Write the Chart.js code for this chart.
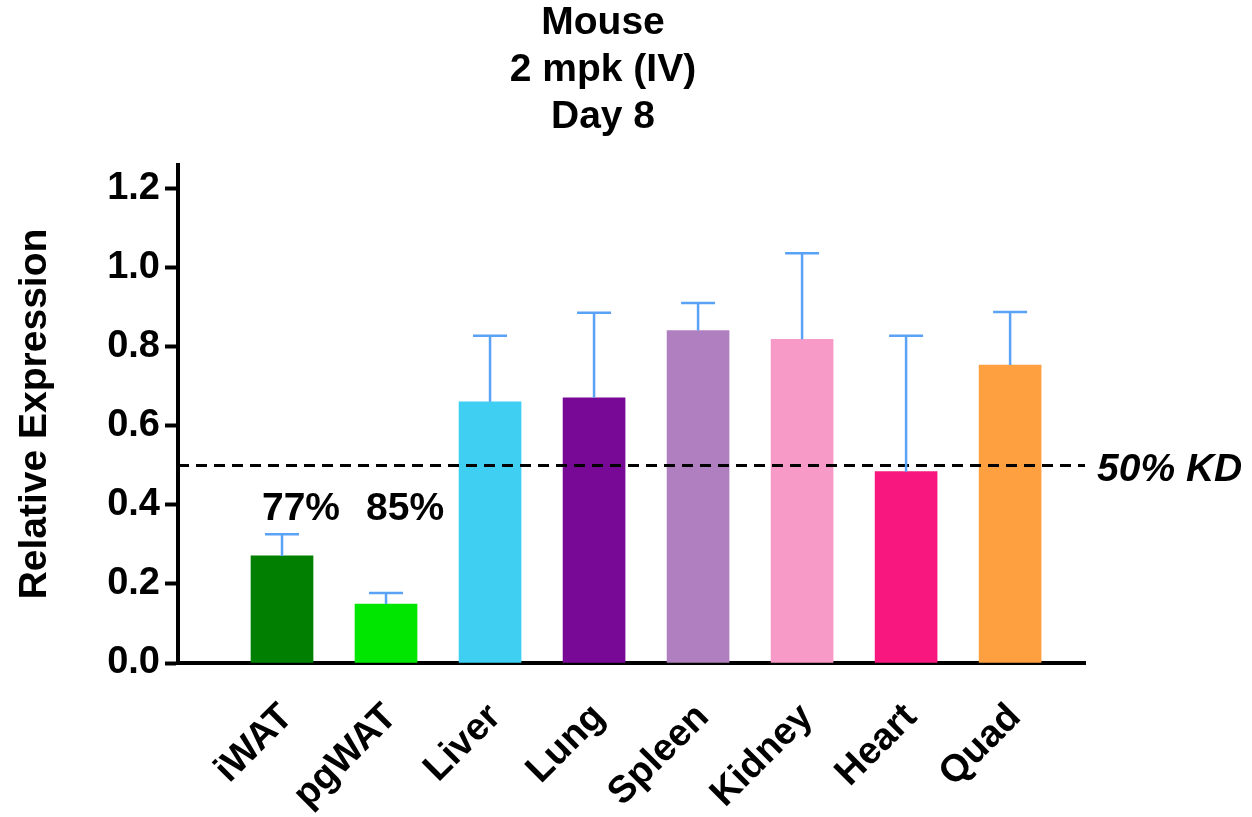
<!DOCTYPE html>
<html>
<head>
<meta charset="utf-8">
<title>Mouse 2 mpk (IV) Day 8</title>
<script src="https://cdn.jsdelivr.net/npm/chart.js@4/dist/chart.umd.min.js"></script>
<style>
  html, body { margin: 0; padding: 0; background: #ffffff; }
  #wrap { width: 1252px; height: 817px; }
</style>
</head>
<body>
<div id="wrap"><canvas id="chart" width="1252" height="817"></canvas></div>
<script>
// Tissues and their relative expression (mean) with the upper error magnitude
const tissues = ['iWAT', 'pgWAT', 'Liver', 'Lung', 'Spleen', 'Kidney', 'Heart', 'Quad'];
const relExpression = [0.271, 0.149, 0.661, 0.671, 0.841, 0.819, 0.484, 0.754];
const errUpper = [0.055, 0.028, 0.167, 0.215, 0.070, 0.218, 0.344, 0.134];
const barColors = ['#007f00', '#00e600', '#3ecff2', '#780896', '#b07fc0', '#f89ac8', '#f8177f', '#fe9f40'];

// Knockdown annotations shown above the adipose bars
const kdLabels = ['77%', '85%'];
const kdLabelLevel = 0.4;

// 50% knockdown reference line
const kdThreshold = 0.5;
const kdThresholdText = '50% KD';

const yTicks = [0.0, 0.2, 0.4, 0.6, 0.8, 1.0, 1.2];
const titleLines = ['Mouse', '2 mpk (IV)', 'Day 8'];

const FONT = "'Liberation Sans', Arial, Helvetica, sans-serif";
Chart.defaults.font.family = FONT;
Chart.defaults.color = '#000000';

const xMin = -1, xMax = 7.72;
const errColor = '#5aa2f5';

// Error bars (upper only) and the text annotations
const annotatePlugin = {
  id: 'annotate',
  afterDatasetsDraw(chart) {
    const { ctx, scales: { x, y }, chartArea } = chart;
    ctx.save();
    // error bars
    ctx.strokeStyle = errColor;
    ctx.lineWidth = 2.5;
    relExpression.forEach((v, i) => {
      const px = x.getPixelForValue(i);
      const y0 = y.getPixelForValue(v);
      const y1 = y.getPixelForValue(v + errUpper[i]);
      ctx.beginPath();
      ctx.moveTo(px, y0);
      ctx.lineTo(px, y1);
      ctx.moveTo(px - 17, y1);
      ctx.lineTo(px + 17, y1);
      ctx.stroke();
    });
    // percent knockdown labels
    ctx.fillStyle = '#000000';
    ctx.font = 'bold 39px ' + FONT;
    ctx.textAlign = 'center';
    ctx.textBaseline = 'alphabetic';
    kdLabels.forEach((t, i) => {
      ctx.fillText(t, x.getPixelForValue(i) + 19, y.getPixelForValue(kdLabelLevel) + 15);
    });
    // threshold label
    ctx.font = 'italic bold 39px ' + FONT;
    ctx.textAlign = 'left';
    ctx.fillText(kdThresholdText, chartArea.right + 12, y.getPixelForValue(kdThreshold) + 16);
    ctx.restore();
  }
};

new Chart(document.getElementById('chart'), {
  data: {
    datasets: [
      {
        type: 'line',
        order: 0,
        data: [{ x: xMin, y: kdThreshold }, { x: xMax, y: kdThreshold }],
        borderColor: '#000000',
        borderWidth: 3,
        borderDash: [11, 7],
        pointRadius: 0,
        fill: false
      },
      {
        type: 'bar',
        order: 1,
        data: relExpression.map((v, i) => ({ x: i, y: v })),
        backgroundColor: barColors,
        borderWidth: 0,
        barThickness: 62
      }
    ]
  },
  options: {
    responsive: false,
    animation: false,
    devicePixelRatio: 1,
    layout: { padding: { left: 0, right: 46, top: 0, bottom: 0 } },
    plugins: {
      legend: { display: false },
      tooltip: { enabled: false },
      title: {
        display: true,
        text: titleLines,
        color: '#000000',
        font: { size: 39, weight: 'bold', lineHeight: 47 / 39 },
        padding: { top: 0, bottom: 24 }
      }
    },
    scales: {
      x: {
        type: 'linear',
        min: xMin,
        max: xMax,
        offset: false,
        afterBuildTicks(scale) {
          scale.ticks = tissues.map((_, i) => ({ value: i }));
        },
        afterFit(scale) { scale.height = 154; },
        ticks: {
          callback: (v) => tissues[v],
          color: '#000000',
          font: { size: 38, weight: 'bold' },
          minRotation: 45,
          maxRotation: 45,
          autoSkip: false,
          padding: 32,
          labelOffset: 5
        },
        grid: { display: false, drawTicks: false, offset: false },
        border: { display: true, color: '#000000', width: 4 }
      },
      y: {
        type: 'linear',
        min: 0,
        max: 1.26,
        afterBuildTicks(scale) {
          scale.ticks = yTicks.map(v => ({ value: v }));
        },
        afterFit(scale) { scale.width = 178; },
        ticks: {
          callback: (v) => Number(v).toFixed(1),
          color: '#000000',
          font: { size: 38, weight: 'bold' },
          padding: 5
        },
        grid: {
          drawOnChartArea: false,
          drawTicks: true,
          tickLength: 13,
          tickWidth: 4,
          tickColor: '#000000'
        },
        border: { display: true, color: '#000000', width: 4 },
        title: {
          display: true,
          text: 'Relative Expression',
          color: '#000000',
          font: { size: 39, weight: 'bold', lineHeight: 1.2 },
          padding: { top: 12, bottom: 0 }
        }
      },
      // empty right-hand strip that holds the "50% KD" label
      side: {
        type: 'linear',
        position: 'right',
        display: true,
        afterFit(scale) { scale.width = 121; },
        ticks: { display: false },
        grid: { display: false, drawTicks: false },
        border: { display: false }
      }
    }
  },
  plugins: [annotatePlugin]
});
</script>
</body>
</html>
